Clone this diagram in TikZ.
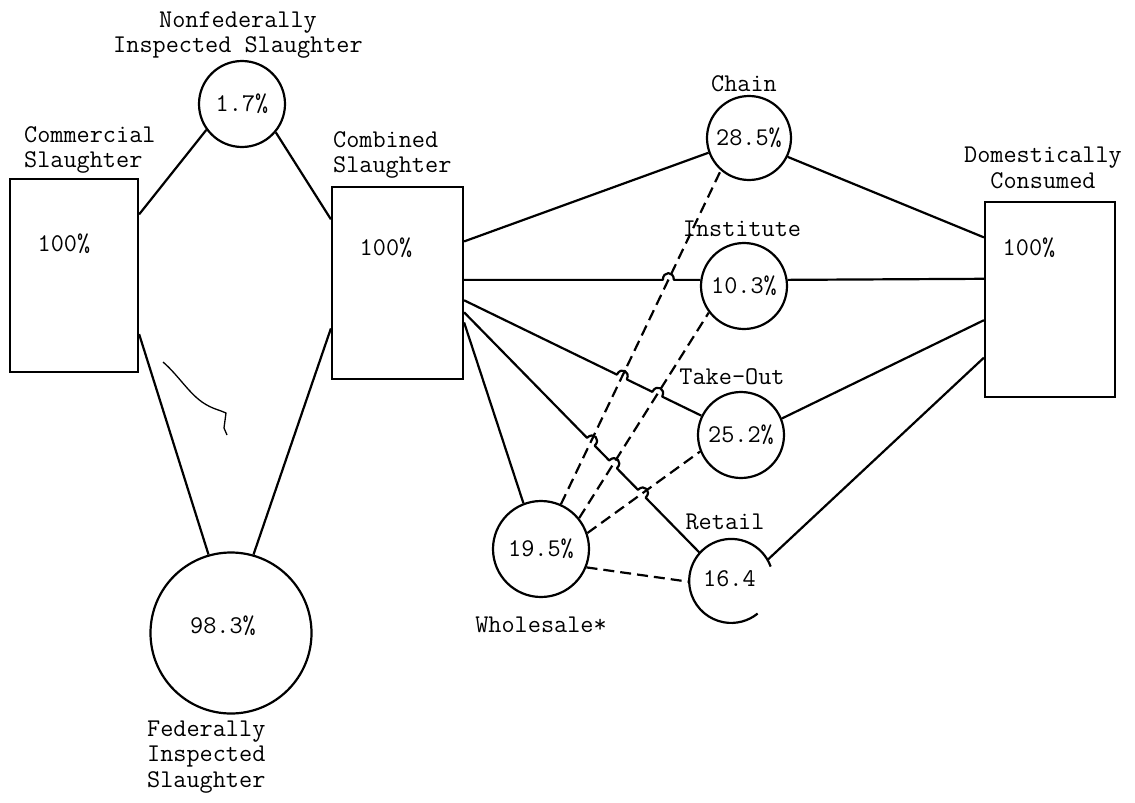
\documentclass[tikz,border=0pt]{standalone}
\usetikzlibrary{calc,intersections}
\tikzset{
  every node/.style={font=\fontsize{25.5}{25.5}\selectfont\ttfamily, inner sep=0pt},
  ln/.style={line width=2.2pt, line join=round},
  dl/.style={line width=2.2pt, dash pattern=on 11pt off 6pt},
  box/.style={draw, line width=2.2pt, rectangle, inner sep=0pt},
  circ/.style={draw, line width=2.2pt, circle, inner sep=0pt},
  lbl/.style={align=center},
}
\begin{document}
\begin{tikzpicture}[x=1pt,y=-1pt]
\useasboundingbox[fill=white] (0,0) rectangle (1135,803);

% boxes
\node[box, minimum width=128pt, minimum height=193pt] (comm) at (74,275.5) {};
\node[box, minimum width=131pt, minimum height=192pt] (comb) at (397.5,283) {};
\node[box, minimum width=130pt, minimum height=195pt] (dom) at (1050,299.5) {};
\node (commv) at (64,244) {100\%};
\node (combv) at (386,248) {100\%};
\node (domv) at (1029,248) {100\%};

% box labels
\node[align=left, anchor=west] (comml) at (24,150) {Commercial\\Slaughter};
\node[align=left, anchor=west] (combl) at (333,155) {Combined\\Slaughter};
\node[lbl] (doml) at (1043,168) {Domestically\\Consumed};

% circles
\node[circ, minimum size=86pt] (nonfed) at (242,104) {1.7\%};
\node[circ, minimum size=161pt] (fed) at (231,633) {};
\node (fedv) at (223,626) {98.3\%};
\node[circ, minimum size=84pt] (chain) at (749,138) {28.5\%};
\node[circ, minimum size=86pt] (inst) at (744,286) {10.3\%};
\node[circ, minimum size=86pt] (take) at (741,435) {25.2\%};
\node[circle, minimum size=84pt] (retail) at (731,581) {};
\draw[ln] (retail.20) arc[start angle=20, end angle=309, radius=42pt];
\node[anchor=west] (retailv) at (703,579) {16.4};
\node[circ, minimum size=96pt] (whole) at (541,549) {19.5\%};

% circle labels
\node[lbl] (nonfedl) at (238,35) {Nonfederally\\Inspected Slaughter};
\node[align=left, anchor=west] (fedl) at (147,757) {Federally\\Inspected\\Slaughter};
\node (chainl) at (744,84) {Chain};
\node (instl) at (742,229) {Institute};
\node (takel) at (732,377) {Take-Out};
\node (retaill) at (725,522) {Retail};
\node (wholel) at (541,625) {Wholesale*};

% attachment points on boxes
\coordinate (cmA) at ($(comm.north east)!0.187!(comm.south east)$);
\coordinate (cmB) at ($(comm.north east)!0.80!(comm.south east)$);
\coordinate (cbA) at ($(comb.north west)!0.172!(comb.south west)$);
\coordinate (cbB) at ($(comb.north west)!0.734!(comb.south west)$);
\coordinate (cC) at ($(comb.north east)!0.286!(comb.south east)$);
\coordinate (cI) at ($(comb.north east)!0.484!(comb.south east)$);
\coordinate (cT) at ($(comb.north east)!0.589!(comb.south east)$);
\coordinate (cR) at ($(comb.north east)!0.651!(comb.south east)$);
\coordinate (cW) at ($(comb.north east)!0.703!(comb.south east)$);
\coordinate (dC) at ($(dom.north west)!0.185!(dom.south west)$);
\coordinate (dI) at ($(dom.north west)!0.395!(dom.south west)$);
\coordinate (dT) at ($(dom.north west)!0.605!(dom.south west)$);
\coordinate (dR) at ($(dom.north west)!0.795!(dom.south west)$);

% slaughter connectors
\draw[ln] (cmA) -- (nonfed.216);
\draw[ln] (nonfed.320) -- (cbA);
\draw[ln] (cmB) -- (fed.106.7);
\draw[ln] (fed.74) -- (cbB);

% dashed wholesale connectors
\draw[dl, name path=Dc] (whole.66) -- (chain.229);
\draw[dl, name path=Di] (whole.39) -- (inst.217);
\draw[dl, name path=Dt] (whole.19) -- (take.202.5);
\draw[dl] (whole.338) -- (retail.181);

% outflows to domestic
\draw[ln] (chain.334) -- (dC);
\draw[ln] (inst.8) -- (dI);
\draw[ln] (take.22) -- (dT);
\draw[ln] (retail.30) -- (dR);

% combined to outlets
\draw[ln] (cC) -- (chain.200);
\draw[ln] (cW) -- (whole.111);

\coordinate (eI) at (inst.172);
\coordinate (eT) at (take.154);
\coordinate (eR) at (retail.138);
\path[name path=Li] (cI) -- (eI);
\path[name path=Lt] (cT) -- (eT);
\path[name path=Lr] (cR) -- (eR);
\path[name intersections={of=Li and Dc, by=h1}];
\path[name intersections={of=Lt and Dc, by=h2}];
\path[name intersections={of=Lt and Di, by=h3}];
\path[name intersections={of=Lr and Dc, by=h4}];
\path[name intersections={of=Lr and Di, by=h5}];
\path[name intersections={of=Lr and Dt, by=h6}];
\coordinate (h1a) at ($(h1)!5.5pt!(cI)$); \coordinate (h1b) at ($(h1)!5.5pt!(eI)$);
\coordinate (h2a) at ($(h2)!5.5pt!(cT)$); \coordinate (h2b) at ($(h2)!5.5pt!(eT)$);
\coordinate (h3a) at ($(h3)!5.5pt!(cT)$); \coordinate (h3b) at ($(h3)!5.5pt!(eT)$);
\coordinate (h4a) at ($(h4)!5.5pt!(cR)$); \coordinate (h4b) at ($(h4)!5.5pt!(eR)$);
\coordinate (h5a) at ($(h5)!5.5pt!(cR)$); \coordinate (h5b) at ($(h5)!5.5pt!(eR)$);
\coordinate (h6a) at ($(h6)!5.5pt!(cR)$); \coordinate (h6b) at ($(h6)!5.5pt!(eR)$);

\draw[ln] (cI) -- (h1a) .. controls ($(h1a)!9pt!90:(h1)$) and ($(h1b)!9pt!-90:(h1)$) .. (h1b) -- (eI);
\draw[ln] (cT) -- (h2a) .. controls ($(h2a)!9pt!90:(h2)$) and ($(h2b)!9pt!-90:(h2)$) .. (h2b)
  -- (h3a) .. controls ($(h3a)!9pt!90:(h3)$) and ($(h3b)!9pt!-90:(h3)$) .. (h3b) -- (eT);
\draw[ln] (cR) -- (h4a) .. controls ($(h4a)!9pt!90:(h4)$) and ($(h4b)!9pt!-90:(h4)$) .. (h4b)
  -- (h5a) .. controls ($(h5a)!9pt!90:(h5)$) and ($(h5b)!9pt!-90:(h5)$) .. (h5b)
  -- (h6a) .. controls ($(h6a)!9pt!90:(h6)$) and ($(h6b)!9pt!-90:(h6)$) .. (h6b) -- (eR);

% stray pen mark
\draw[line width=1.3pt] (163,362) .. controls (178,375) and (188,392) .. (202,402)
  .. controls (212,409) and (220,410) .. (226,413) -- (224,428) -- (227,435);
\end{tikzpicture}
\end{document}
